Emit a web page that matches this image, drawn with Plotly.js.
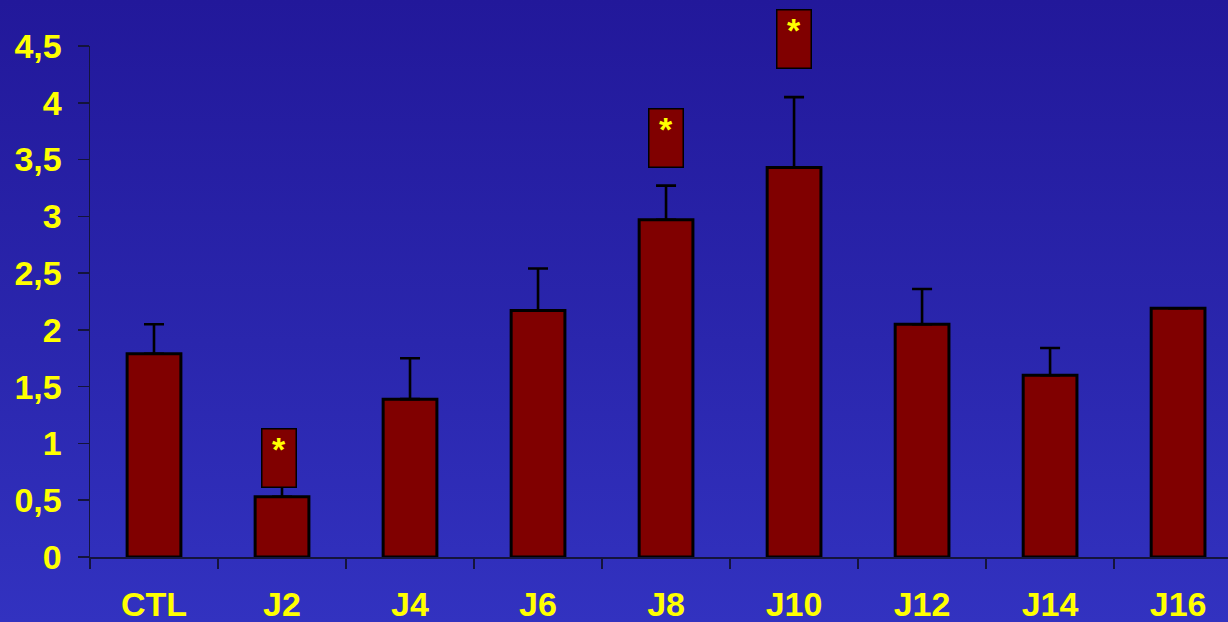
<!DOCTYPE html>
<html>
<head>
<meta charset="utf-8">
<script src="https://cdn.plot.ly/plotly-3.0.1.min.js"></script>
<style>
  html, body { margin: 0; padding: 0; }
  body { width: 1228px; height: 622px; overflow: hidden;
         background: linear-gradient(to bottom, #22189a 0%, #2a26ad 55%, #3232c0 100%); }
  #chart { width: 1228px; height: 622px; }
</style>
</head>
<body>
<div id="chart"></div>
<script>
// Data
const categories = ["CTL", "J2", "J4", "J6", "J8", "J10", "J12", "J14", "J16"];
const values     = [1.79, 0.53, 1.39, 2.17, 2.97, 3.43, 2.05, 1.60, 2.19];
const errorsUp   = [0.26, 0.10, 0.36, 0.37, 0.30, 0.62, 0.31, 0.24, 0];
// Significance markers (category, level of the marker box)
const sigCategories = ["J2", "J8", "J10"];
const sigLevels     = [0.607, 3.43, 4.30];
const sigText       = ["*", "*", "*"];

const axisColor = "#14143c";
const labelFont = { family: "Liberation Sans, Arial, sans-serif", size: 34, color: "#ffff00", weight: "bold" };

const trace = {
  type: "bar",
  x: categories,
  y: values,
  width: 0.42,
  marker: { color: "#800000", line: { color: "#000000", width: 3 } },
  error_y: { type: "data", symmetric: false, array: errorsUp, arrayminus: values.map(() => 0),
             color: "#000000", thickness: 2.6, width: 10 },
  hoverinfo: "x+y"
};

const annotations = sigCategories.map((c, i) => ({
  x: c, y: sigLevels[i], xref: "x", yref: "y",
  xanchor: "center", yanchor: "bottom",
  xshift: i === 0 ? -3 : 0,
  text: "<b>" + sigText[i] + "</b>",
  showarrow: false,
  width: 33, height: 57,
  valign: "top", align: "center",
  bgcolor: "#800000", bordercolor: "#000000", borderwidth: 1.5, borderpad: 0,
  font: { family: "Liberation Sans, Arial, sans-serif", size: 34, color: "#ffff00" }
}));

const layout = {
  width: 1228, height: 622,
  margin: { l: 90, r: 0, t: 46, b: 65 },
  paper_bgcolor: "rgba(0,0,0,0)",
  plot_bgcolor: "rgba(0,0,0,0)",
  separators: ", ",
  showlegend: false,
  xaxis: {
    type: "category",
    range: [-0.5, 8.39],
    tickson: "boundaries",
    ticks: "outside", ticklen: 10, tickwidth: 1.5, tickcolor: axisColor,
    showline: true, linecolor: axisColor, linewidth: 1.5,
    showgrid: false, zeroline: false,
    tickfont: labelFont,
    ticklabelstandoff: 17
  },
  yaxis: {
    range: [0, 4.5],
    dtick: 0.5, tick0: 0,
    ticks: "outside", ticklen: 11, tickwidth: 1.5, tickcolor: axisColor,
    showline: true, linecolor: axisColor, linewidth: 1.5,
    showgrid: false, zeroline: false,
    tickfont: labelFont,
    ticklabelstandoff: 9
  },
  annotations: annotations
};

Plotly.newPlot("chart", [trace], layout, { displayModeBar: false, staticPlot: true });
</script>
</body>
</html>
